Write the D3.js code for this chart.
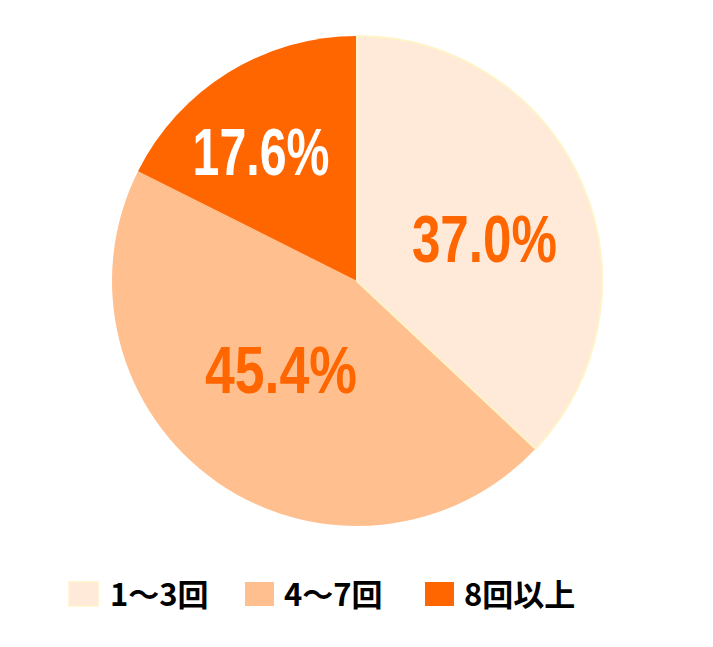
<!DOCTYPE html>
<html><head><meta charset="utf-8">
<script src="https://cdn.jsdelivr.net/npm/d3@7"></script>
<style>body{margin:0;background:#fff}svg{display:block}</style>
</head><body>
<svg id="c" width="713" height="647"></svg>
<script>
const categories = ["1～3回", "4～7回", "8回以上"];
const values = [37.0, 45.4, 17.6];
const labels = ["37.0%", "45.4%", "17.6%"];
const colors = ["#ffe9d8", "#ffbf8f", "#ff6600"];
const labelColors = ["#ff6600", "#ff6600", "#ffffff"];

const svg = d3.select("#c");
const cx = 357, cy = 281, r = 245;
const g = svg.append("g").attr("transform", `translate(${cx},${cy})`);
const pie = d3.pie().sort(null).value(d => d)(values);
const arc = d3.arc().innerRadius(0).outerRadius(r);
g.selectAll("path.s").data(pie).join("path")
  .attr("d", arc).attr("fill", (d,i) => colors[i]);
g.append("path").attr("d", arc(pie[0])).attr("fill", "none")
  .attr("stroke", "#fff3c8").attr("stroke-width", 2);

// label layout: offsets from slice centroid
const labelLayout = [
  {dx: 15, dy: 29.6, w: 145},
  {dx: -6, dy: 11.5, w: 152},
  {dx: -31.6, dy: -1.7, w: 137}
];
pie.forEach((p, i) => {
  const c = arc.centroid(p);
  const L = labelLayout[i];
  g.append("text")
    .attr("x", c[0] + L.dx).attr("y", c[1] + L.dy)
    .attr("text-anchor", "middle")
    .attr("font-family", "'Liberation Sans Narrow', 'Arial Narrow', sans-serif")
    .attr("font-weight", "bold")
    .attr("font-size", 67)
    .attr("textLength", L.w)
    .attr("lengthAdjust", "spacingAndGlyphs")
    .attr("fill", labelColors[i])
    .text(labels[i]);
});

// legend
const legX = [69, 245, 425];
const legTextX = [110, 284, 464];
const lg = svg.append("g");
categories.forEach((c, i) => {
  lg.append("rect").attr("x", legX[i]).attr("y", 582).attr("width", 29).attr("height", 24)
    .attr("fill", colors[i]).attr("stroke", i === 0 ? "#fff3c8" : "none").attr("stroke-width", 1.5);
  lg.append("text").attr("x", legTextX[i]).attr("y", 606)
    .attr("font-family", "'Noto Sans CJK JP', 'Noto Sans', sans-serif")
    .attr("font-weight", "bold")
    .attr("font-size", 31).attr("fill", "#000").text(c);
});
</script>
</body></html>
